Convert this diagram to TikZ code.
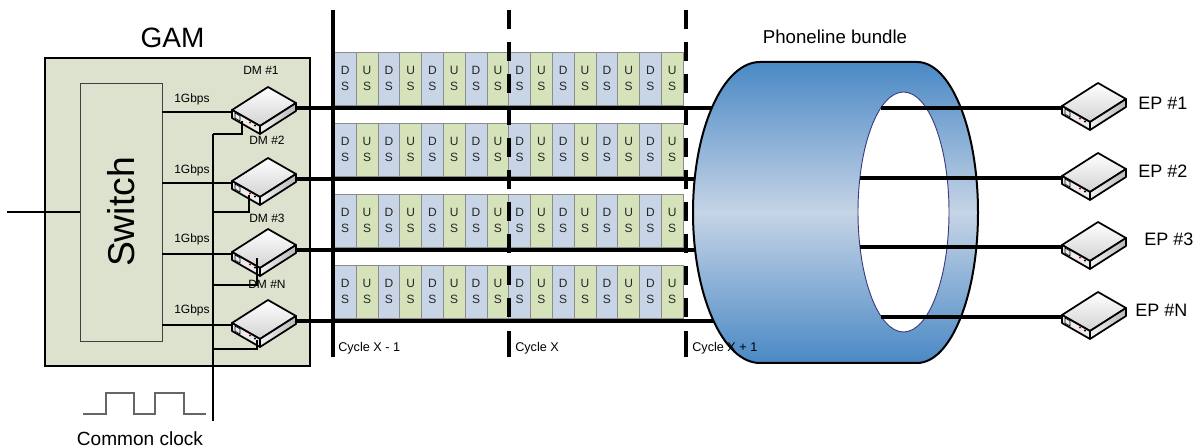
\documentclass[tikz,border=0pt]{standalone}
\usepackage{fontspec}
\setmainfont{Liberation Sans}
\usepackage{tikz}

\definecolor{gamfill}{RGB}{221,226,206}
\definecolor{dsfill}{RGB}{199,213,230}
\definecolor{usfill}{RGB}{214,227,186}
\definecolor{bundleblue}{RGB}{74,137,197}
\definecolor{bundlelight}{RGB}{198,212,230}
\definecolor{holeline}{RGB}{60,60,130}

\tikzset{
  lbl/.style={inner sep=0.75pt, font=\fontsize{9}{11}\selectfont},
  slot/.style={draw=gray!90, line width=0.5pt, anchor=north west, inner sep=0pt,
    minimum width=16.35pt, minimum height=39.75pt, align=center,
    text=black!85, font=\fontsize{9}{12}\selectfont},
  gbe/.style={line width=1.3pt},
  rowline/.style={line width=2.4pt},
  cycleline/.style={line width=2.4pt},
  clk/.style={line width=0.8pt},
  % pics keep only the shift, so y runs upwards in here
  modem/.pic={
    % top face
    \draw[line width=1.3pt, line join=round, top color=white, bottom color=gray!35]
      (0,0) -- (36,23) -- (64,7) -- (28,-16) -- cycle;
    % front faces
    \draw[line width=1.3pt, line join=round, fill=gray!15]
      (0,0) -- (28,-16) -- (28,-24) -- (0,-8) -- cycle;
    \draw[line width=1.3pt, line join=round, left color=gray!10, right color=gray!55]
      (28,-16) -- (64,7) -- (64,-1) -- (28,-24) -- cycle;
    % ports
    \draw[line width=0.4pt] (3,-3) -- (8,-6) -- (8,-11) -- (3,-8) -- cycle;
    \fill[red!70!black] (18,-12.5) circle (1.1); \fill (23,-15.5) circle (1.1);
    \coordinate (-in) at (0,-2);
    \coordinate (-out) at (64,2);
  }
}

\begin{document}
\begin{tikzpicture}[x=0.75pt,y=0.75pt,yscale=-1,xscale=1]
\useasboundingbox (0,0) rectangle (1197,448);

%Shape: GAM box
\draw[line width=1.1pt, fill=gamfill] (45,58) rectangle (310,366);
% Text Node
\draw (172.5,48) node [anchor=base][inner sep=0.75pt][font=\fontsize{21}{25}\selectfont] (gam) {GAM};

%Shape: Switch
\draw (121,212) node [draw=black!75, fill=gamfill, minimum width=61.5pt, minimum height=193.5pt, inner sep=0pt] (sw) {};
\draw (sw.center) node [rotate=90][font=\fontsize{28}{30}\selectfont] (swlbl) {Switch};
\coordinate (uplink) at (7,212);
\draw[line width=0.8pt] (uplink) -- (sw.west);

% DM modems
\pic (dm1) at (232,110) {modem};
\pic (dm2) at (232,181) {modem};
\pic (dm3) at (232,252) {modem};
\pic (dm4) at (232,323) {modem};

% 1Gbps links
\draw[gbe] (sw.east |- dm1-in) -- (dm1-in);
\draw[gbe] (sw.east |- dm2-in) -- (dm2-in);
\draw[gbe] (sw.east |- dm3-in) -- (dm3-in);
\draw[gbe] (sw.east |- dm4-in) -- (dm4-in);
% Text Node
\draw (173,103) node [anchor=base west][lbl] (g1) {1Gbps};
% Text Node
\draw (173,174) node [anchor=base west][lbl] (g2) {1Gbps};
% Text Node
\draw (173,243) node [anchor=base west][lbl] (g3) {1Gbps};
% Text Node
\draw (173,314) node [anchor=base west][lbl] (g4) {1Gbps};
% Text Node
\draw (242,75) node [anchor=base west][lbl] (dm1lbl) {DM \#1};
% Text Node
\draw (248,145) node [anchor=base west][lbl] (dm2lbl) {DM \#2};
% Text Node
\draw (248,223) node [anchor=base west][lbl] (dm3lbl) {DM \#3};
% Text Node
\draw (247,289) node [anchor=base west][lbl] (dm4lbl) {DM \#N};

% common clock distribution
\coordinate (c1) at (213,134);
\coordinate (c2) at (213,212);
\coordinate (c3) at (213,285);
\coordinate (c4) at (213,349);
\coordinate (clkend) at (213,421);
\coordinate (p1) at (242,121);
\coordinate (p2) at (249,195);
\coordinate (p3) at (257,258);
\coordinate (p4) at (257,340);
\draw[clk] (c1) -- (clkend);
\draw[clk] (c1) -| (p1);
\draw[clk] (c2) -| (p2);
\draw[clk] (c3) -| (p3);
\draw[clk] (c4) -| (p4);
%Shape: clock waveform
\draw[line width=1pt, black!60] (83,414) -- (106,414) -- (106,393) -- (134,393) -- (134,414) -- (155,414) -- (155,393) -- (184,393) -- (184,414) -- (206,414);
% Text Node
\draw (140,446) node [anchor=base][inner sep=0.75pt][font=\fontsize{14.3}{16}\selectfont] (clklbl) {Common clock};

% DS/US slots
\foreach \r/\y in {1/52,2/123,3/194,4/265} {
  \foreach \i in {0,...,7} {
    \node[slot, fill=dsfill] (ds\r-\i) at ({334+43.6*\i},\y) {D\\S};
    \node[slot, fill=usfill] (us\r-\i) at ({355.8+43.6*\i},\y) {U\\S};
  }
}

% cycle boundaries
\draw[cycleline] (333,10) -- (333,357);
\draw[cycleline, dash pattern=on 14pt off 10pt] (509,10) -- (509,322);
\draw[cycleline] (509,331) -- (509,357);
\draw[cycleline, dash pattern=on 14pt off 10pt] (686,10) -- (686,322);
\draw[cycleline] (686,331) -- (686,357);

% lines into the bundle
\coordinate (bundle) at (740,212);
\draw[rowline] (dm1-out) -- (dm1-out -| bundle);
\draw[rowline] (dm2-out) -- (dm2-out -| bundle);
\draw[rowline] (dm3-out) -- (dm3-out -| bundle);
\draw[rowline] (dm4-out) -- (dm4-out -| bundle);

%Shape: phoneline bundle
\draw[line width=1.5pt, top color=bundleblue, bottom color=bundleblue, middle color=bundlelight]
  (760,62) -- (917,62) arc[start angle=-90, end angle=90, x radius=61, y radius=150.5]
  -- (760,363) arc[start angle=90, end angle=270, x radius=67, y radius=150.5] -- cycle;
\draw[holeline, line width=0.7pt, fill=white] (903.5,212) ellipse [x radius=45.5, y radius=120];

% EP modems
\pic (ep1) at (1062,106) {modem};
\pic (ep2) at (1062,176) {modem};
\pic (ep3) at (1062,245) {modem};
\pic (ep4) at (1062,315) {modem};

% lines out of the bundle
\coordinate (h1) at (881,108);
\coordinate (h2) at (860,178);
\coordinate (h3) at (860,247);
\coordinate (h4) at (881,317);
\draw[rowline] (h1) -- (ep1-in);
\draw[rowline] (h2) -- (ep2-in);
\draw[rowline] (h3) -- (ep3-in);
\draw[rowline] (h4) -- (ep4-in);

% Text Node
\draw (337,352) node [anchor=base west][inner sep=0.75pt][font=\fontsize{9.5}{11}\selectfont] (cyc1) {Cycle X - 1};
% Text Node
\draw (514,352) node [anchor=base west][inner sep=0.75pt][font=\fontsize{9.5}{11}\selectfont] (cyc2) {Cycle X};
% Text Node
\draw (691,352) node [anchor=base west][inner sep=0.75pt][font=\fontsize{9.5}{11}\selectfont] (cyc3) {Cycle X + 1};
% Text Node
\draw (835,44) node [anchor=base][inner sep=0.75pt][font=\fontsize{14}{16}\selectfont] (bundlelbl) {Phoneline bundle};
% Text Node
\draw (1137,110) node [anchor=base west][inner sep=0.75pt][font=\fontsize{13.5}{16}\selectfont] (ep1lbl) {EP \#1};
% Text Node
\draw (1137,178) node [anchor=base west][inner sep=0.75pt][font=\fontsize{13.5}{16}\selectfont] (ep2lbl) {EP \#2};
% Text Node
\draw (1143,246) node [anchor=base west][inner sep=0.75pt][font=\fontsize{13.5}{16}\selectfont] (ep3lbl) {EP \#3};
% Text Node
\draw (1134,317) node [anchor=base west][inner sep=0.75pt][font=\fontsize{13.5}{16}\selectfont] (ep4lbl) {EP \#N};

\end{tikzpicture}
\end{document}
